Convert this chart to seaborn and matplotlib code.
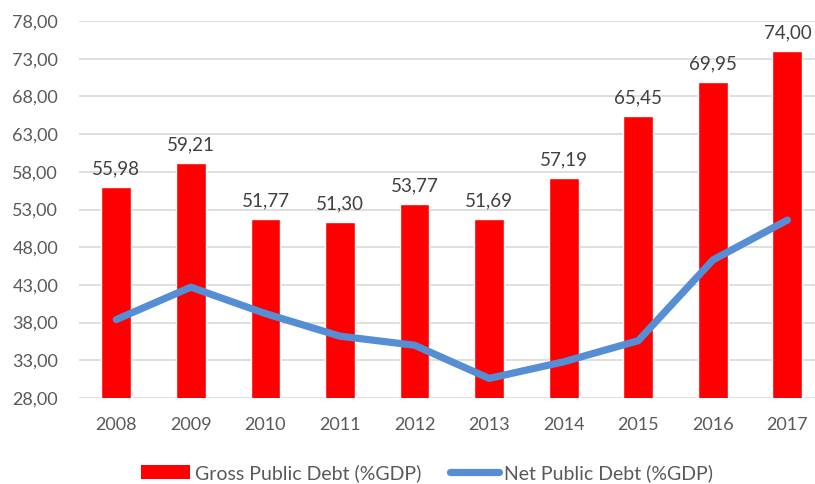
import numpy as np
import matplotlib
matplotlib.use('Agg')
import matplotlib.pyplot as plt
import seaborn as sns
from matplotlib.patches import Patch
from matplotlib.lines import Line2D

years = ['2008', '2009', '2010', '2011', '2012', '2013', '2014', '2015', '2016', '2017']
gross_debt = [55.98, 59.21, 51.77, 51.30, 53.77, 51.69, 57.19, 65.45, 69.95, 74.00]
net_debt = [38.4, 42.7, 39.2, 36.2, 35.0, 30.6, 32.8, 35.6, 46.3, 51.6]
y_ticks = [28, 33, 38, 43, 48, 53, 58, 63, 68, 73, 78]

sns.set_style('white')
plt.rcParams['font.family'] = ['Lato', 'DejaVu Sans']

fig = plt.figure(figsize=(8.15, 4.84), dpi=100)
ax = fig.add_axes([79 / 815, 86 / 484, 736 / 815, 377 / 484])

sns.barplot(x=years, y=gross_debt, color='#ff0000', width=0.4, saturation=1, ax=ax, zorder=2)
sns.lineplot(x=np.arange(len(years)), y=net_debt, color='#558ed5', linewidth=5.2,
             solid_capstyle='round', solid_joinstyle='round', ax=ax, zorder=3)

for i, v in enumerate(gross_debt):
    ax.annotate(f'{v:.2f}'.replace('.', ','), (i, v), xytext=(0, 7), textcoords='offset points',
                ha='center', va='bottom', fontsize=13.5, color='#404040', annotation_clip=False)

ax.set_xlim(-0.5, 9.37)
ax.set_ylim(28, 78)
ax.set_yticks(y_ticks)
ax.set_yticklabels([f'{t:.2f}'.replace('.', ',') for t in y_ticks])
ax.yaxis.grid(True, color='#d9d9d9', linewidth=1.2, zorder=0)
ax.set_axisbelow(True)
for s in ax.spines.values():
    s.set_visible(False)
ax.tick_params(axis='both', length=0, labelsize=13, colors='#595959')
ax.tick_params(axis='x', pad=14)
ax.tick_params(axis='y', pad=15)
ax.set_xlabel('')
ax.set_ylabel('')

handles = [Patch(facecolor='#ff0000', edgecolor='none'),
           Line2D([0], [0], color='#558ed5', linewidth=5.2, solid_capstyle='round')]
fig.legend(handles, ['Gross Public Debt (%GDP)', 'Net Public Debt (%GDP)'],
           loc='center', bbox_to_anchor=(427 / 815, 1 - 473 / 484), ncol=2, frameon=False,
           fontsize=14, labelcolor='#595959', handlelength=2.5, handletextpad=0.25,
           columnspacing=1.5)

fig.savefig('out.png', dpi=100)
